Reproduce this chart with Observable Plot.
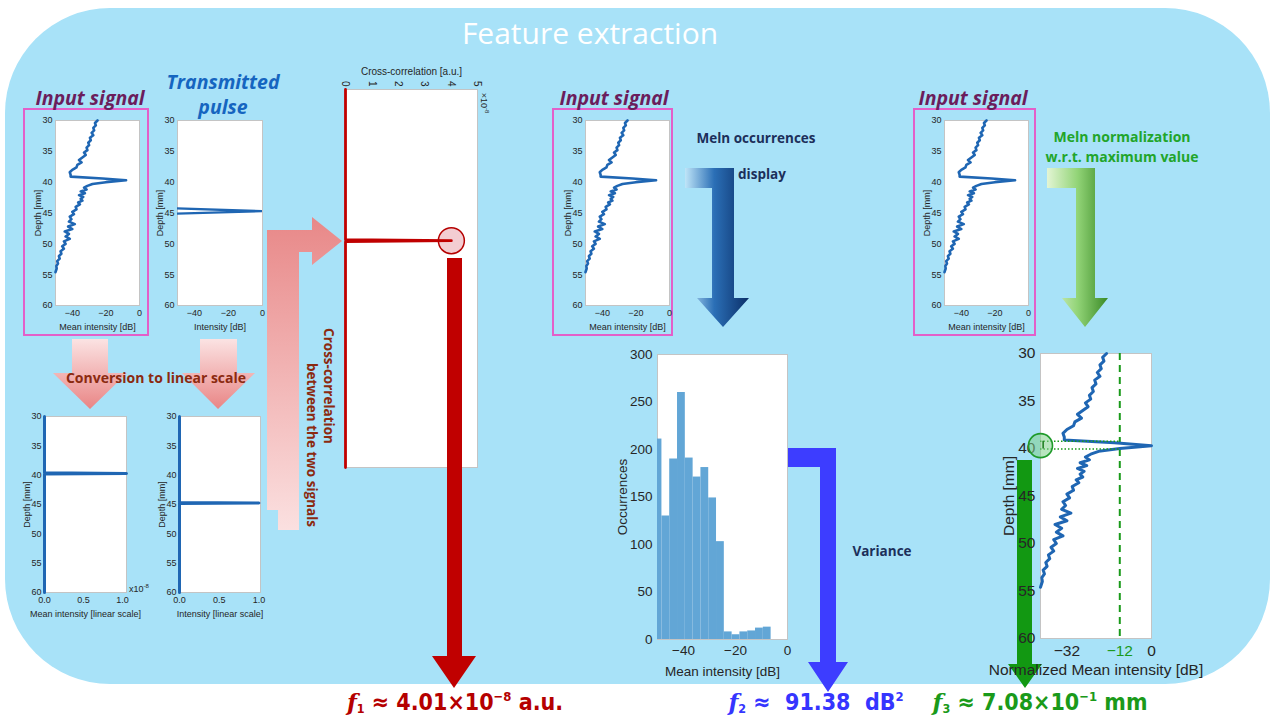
<!DOCTYPE html>
<html>
<head>
<meta charset="utf-8">
<script src="https://cdn.jsdelivr.net/npm/d3@7"></script>
<script src="https://cdn.jsdelivr.net/npm/@observablehq/plot@0.6"></script>
<style>
  html, body { margin: 0; padding: 0; background: #fff; }
  #stage { position: relative; width: 1278px; height: 719px; overflow: hidden; background: #fff; font-family: 'Liberation Sans', Arial, sans-serif; }
  #bg { position: absolute; left: 5px; top: 8px; width: 1265px; height: 676px; border-radius: 105px; background: #a8e2f8; z-index: 0; }
  .t { position: absolute; white-space: nowrap; transform: translate(-50%, -50%); z-index: 5; line-height: 1; }
  .title { font-family: 'Open Sans', 'Liberation Sans', sans-serif; font-size: 30px; color: #fff; }
  .sig { font-family: 'Open Sans', Lato, sans-serif; font-weight: 700; font-style: italic; font-size: 19.5px; color: #6b1d5c; }
  .tp { font-family: 'Open Sans', Lato, sans-serif; font-weight: 700; font-style: italic; font-size: 19.5px; color: #1565c0; }
  .ann { font-family: 'Open Sans', Lato, sans-serif; font-weight: 700; font-size: 13.5px; }
  .box { position: absolute; border: 2px solid #e35fc9; box-sizing: border-box; z-index: 1; }
  .feat { font-family: 'Liberation Sans Narrow', 'DejaVu Sans Condensed', sans-serif; font-weight: 700; font-size: 23px; line-height: 1; }
  .feat .f { font-family: 'DejaVu Serif', 'Liberation Serif', serif; font-style: italic; }
  .feat sub { font-size: 12.5px; vertical-align: -3px; line-height: 0; }
  .feat sup { font-size: 13px; vertical-align: 9px; line-height: 0; }
  .small { font-family: 'Liberation Sans', Arial, sans-serif; font-size: 9px; color: #262626; }
</style>
</head>
<body>
<div id="stage"><div id="bg"></div></div>
<script>
// ---------------- data ----------------
const depthMm = [30.0,30.4,30.8,31.2,31.6,32.0,32.4,32.8,33.2,33.6,34.0,34.4,34.8,35.2,35.6,36.0,36.4,36.8,37.2,37.6,38.0,38.4,38.8,
  39.1,39.4,39.7,40.0,40.3,40.6,40.9,41.2,41.5,41.8,42.1,42.4,42.7,43.0,43.3,43.6,
  44.0,44.4,44.8,45.2,45.6,46.0,46.4,46.8,47.2,47.6,48.0,48.4,48.8,49.2,49.6,50.0,50.4,50.8,51.2,51.6,52.0,52.4,52.8,53.2,53.6,54.0,54.6];
const meanIntensityDb = [-25,-26.5,-26,-27.5,-27,-28.5,-27.5,-29.5,-29,-30.5,-30,-31.5,-31,-33,-32,-34,-36,-34.5,-37,-37.5,-40,-41.5,-41,
  -41,-22,-8,-20,-28,-31,-33,-31.5,-35,-32.5,-36,-33.5,-35,-34,-36.5,-35.5,
  -38,-37.5,-40,-39,-41.5,-40.5,-42,-38.5,-42.5,-40,-44.5,-42,-44,-41.5,-45,-44,-46,-45,-47,-46.5,-48,-47.5,-49,-48.5,-49.5,-49.3,-50];

const pulseDepthMm = [44.2, 44.7, 45.15];
const pulseDb = [-56, 0, -56];

const linInputDepth = [30, 39.6, 39.7, 39.8, 60];
const linInputValue = [0, 0, 1.05, 0, 0];       // ×10^-8
const linPulseDepth = [30, 44.65, 44.75, 44.85, 60];
const linPulseValue = [0, 0, 1, 0, 0];

const xcorrLag = [0, 3.18, 3.2, 3.22, 8];
const xcorrValue = [0, 0, 4.01, 0, 0];          // ×10^-8 a.u.

const histBinStart = [-51.3,-48.3,-45.3,-42.3,-39.3,-36.3,-33.3,-30.3,-27.3,-24.3,-21.3,-18.3,-15.3,-12.3,-9.3];
const histCount = [211,130,190,260,191,171,181,149,103,8,5,8,9,12,13];
const binWidth = 3;

const thresholdDb = -12;
const fwhmDepths = [39.24, 40.04];

const depthTicks = [30,35,40,45,50,55,60];
const dbTicks = [-40,-20,0];

// ---------------- helpers ----------------
const FONT = "'Liberation Sans', Arial, Helvetica, sans-serif";
const stage = document.getElementById("stage");
const BLUE = "#1f66b3";

function place(node, left, top, z = 2) {
  node.style.position = "absolute";
  node.style.left = left + "px";
  node.style.top = top + "px";
  node.style.zIndex = z;
  stage.appendChild(node);
}
function framed({left, top, w, h, m, fontSize = 9, x, y, marks, z = 2}) {
  const [mT, mR, mB, mL] = m;
  const p = Plot.plot({
    width: w + mL + mR, height: h + mT + mB,
    marginTop: mT, marginRight: mR, marginBottom: mB, marginLeft: mL,
    style: {background: "transparent", fontFamily: FONT, fontSize: fontSize + "px", color: "#262626", overflow: "visible"},
    x, y,
    marks: [Plot.frame({fill: "white", stroke: "#c4c4c4"}), ...marks]
  });
  place(p, left - mL, top - mT, z);
  return p;
}
const sig = depthMm.map((d, i) => ({depth: d, db: meanIntensityDb[i]}));
const maxDb = d3.max(meanIntensityDb);
const sigNorm = sig.map(d => ({depth: d.depth, db: d.db - maxDb}));

function depthY(off = 21) {
  return {domain: [30, 60], reverse: true, ticks: depthTicks, tickSize: 0, tickPadding: 3,
    label: "Depth [mm]", labelAnchor: "center", labelArrow: "none", labelOffset: off};
}
function dbX(label, off = 24) {
  return {domain: [-50, 0], ticks: dbTicks, tickSize: 0, tickPadding: 4,
    label, labelAnchor: "center", labelArrow: "none", labelOffset: off};
}
const SM = [4, 6, 30, 34];

// Input signal plots (three copies)
for (const L of [55, 585, 944]) {
  framed({left: L, top: 120, w: 84, h: 185, m: SM,
    x: dbX("Mean intensity [dB]"), y: depthY(),
    marks: [Plot.line(sig, {x: "db", y: "depth", stroke: BLUE, strokeWidth: 2.6})]});
}
// Transmitted pulse
framed({left: 177, top: 120, w: 85, h: 185, m: SM,
  x: dbX("Intensity [dB]"), y: depthY(),
  marks: [Plot.line(pulseDepthMm.map((d, i) => ({depth: d, db: pulseDb[i]})), {x: "db", y: "depth", stroke: BLUE, strokeWidth: 2.4, clip: true})]});

// Linear plots
framed({left: 44, top: 416, w: 82, h: 176, m: SM,
  x: {domain: [0, 1.05], ticks: [0, 0.5, 1], tickSize: 0, tickPadding: 4, label: "Mean intensity [linear scale]", labelAnchor: "center", labelArrow: "none", labelOffset: 24},
  y: depthY(),
  marks: [Plot.line(linInputDepth.map((d, i) => ({depth: d, v: linInputValue[i]})), {x: "v", y: "depth", stroke: BLUE, strokeWidth: 3})]});
framed({left: 179, top: 416, w: 81, h: 176, m: SM,
  x: {domain: [0, 1.02], ticks: [0, 0.5, 1], tickSize: 0, tickPadding: 4, label: "Intensity [linear scale]", labelAnchor: "center", labelArrow: "none", labelOffset: 24},
  y: depthY(),
  marks: [Plot.line(linPulseDepth.map((d, i) => ({depth: d, v: linPulseValue[i]})), {x: "v", y: "depth", stroke: BLUE, strokeWidth: 3})]});

// Cross-correlation
const xc = xcorrLag.map((l, i) => ({lag: l, v: xcorrValue[i]}));
const peak = xc[d3.maxIndex(xcorrValue)];
framed({left: 345, top: 89, w: 132, h: 378, m: [32, 6, 4, 6], fontSize: 10,
  x: {domain: [0, 5], axis: "top", ticks: [0,1,2,3,4,5], tickFormat: d => String(d), tickRotate: 90, tickSize: 0, tickPadding: 3,
      label: "Cross-correlation [a.u.]", labelAnchor: "center", labelArrow: "none", labelOffset: 22},
  y: {domain: [0, 8], reverse: true, axis: null},
  marks: [
    Plot.dot([peak], {x: "v", y: "lag", r: 13, fill: "#f3cdd2", stroke: "#b50000", strokeWidth: 1.5}),
    Plot.line(xc, {x: "v", y: "lag", stroke: "#c00000", strokeWidth: 2.8})
  ]});

// Histogram
const hist = histBinStart.map((b, i) => ({x1: b, x2: b + binWidth, n: histCount[i]}));
framed({left: 657, top: 354, w: 130, h: 285, m: [10, 6, 40, 46], fontSize: 13.5,
  x: {domain: [-50, 0], ticks: dbTicks, tickSize: 0, tickPadding: 6, label: "Mean intensity [dB]", labelAnchor: "center", labelArrow: "none", labelOffset: 36},
  y: {domain: [0, 300], ticks: d3.range(0, 301, 50), tickSize: 0, tickPadding: 5, label: "Occurrences", labelAnchor: "center", labelArrow: "none", labelOffset: 40},
  marks: [Plot.rectY(hist, {x1: "x1", x2: "x2", y: "n", fill: "#62a6d6", clip: true})]});

// Normalized plot
framed({left: 1040, top: 353, w: 111, h: 285, m: [10, 30, 42, 50], fontSize: 15.5, z: 2,
  x: {domain: [-42, 0]},
  y: {domain: [30, 60], reverse: true},
  marks: [
    Plot.axisY({ticks: depthTicks, tickSize: 0, tickPadding: 5, label: "Depth [mm]", labelAnchor: "center", labelArrow: "none", labelOffset: 38}),
    Plot.axisX({ticks: [-32, 0], tickSize: 0, tickPadding: 6, label: "Normalized Mean intensity [dB]", labelAnchor: "center", labelArrow: "none", labelOffset: 36}),
    Plot.axisX({ticks: [thresholdDb], tickSize: 0, tickPadding: 6, fill: "#1a9a1a", label: null}),
    Plot.ruleX([thresholdDb], {stroke: "#1a9a1a", strokeWidth: 2, strokeDasharray: "7,5"}),
    Plot.line(sigNorm, {x: "db", y: "depth", stroke: BLUE, strokeWidth: 3}),
    Plot.ruleY(fwhmDepths, {x1: -42, x2: thresholdDb, stroke: "#1a9a1a", strokeWidth: 1.5, strokeDasharray: "1.5,2"}),
    Plot.dot([{x: -42, y: sigNorm[d3.maxIndex(sigNorm, d => d.db)].depth}], {x: "x", y: "y", r: 12, fill: "#7fcf8a", fillOpacity: 0.55, stroke: "#1f9a2a", strokeWidth: 1.6}),
    Plot.ruleX([-41], {y1: fwhmDepths[0], y2: fwhmDepths[1], stroke: "#1a7a1a", strokeWidth: 1.5})
  ]});

// ---------------- arrows (decor) ----------------
const NS = "http://www.w3.org/2000/svg";
function svgLayer(z, html) {
  const s = document.createElementNS(NS, "svg");
  s.setAttribute("width", 1278); s.setAttribute("height", 719);
  s.style.position = "absolute"; s.style.left = "0"; s.style.top = "0"; s.style.zIndex = z;
  s.innerHTML = html;
  stage.appendChild(s);
}
svgLayer(1, `
<defs>
  <linearGradient id="pinkV" x1="0" y1="0" x2="0" y2="1"><stop offset="0" stop-color="#fbe3e3"/><stop offset="1" stop-color="#e98585"/></linearGradient>
  <linearGradient id="pinkL" x1="0" y1="0" x2="0" y2="1"><stop offset="0" stop-color="#e88888"/><stop offset="1" stop-color="#fbe0e0"/></linearGradient>
  <linearGradient id="navyH" x1="685" y1="0" x2="750" y2="0" gradientUnits="userSpaceOnUse"><stop offset="0" stop-color="#bfe5f8"/><stop offset="0.45" stop-color="#2b6fb6"/><stop offset="1" stop-color="#0a2d66"/></linearGradient>
  <linearGradient id="greenH" x1="1047" y1="0" x2="1108" y2="0" gradientUnits="userSpaceOnUse"><stop offset="0" stop-color="#e3f5d4"/><stop offset="0.5" stop-color="#92d477"/><stop offset="1" stop-color="#3a8a26"/></linearGradient>
</defs>
<polygon fill="url(#pinkV)" points="72,339 108,339 108,373 127,373 90,409 53,373 72,373"/>
<polygon fill="url(#pinkV)" points="200,339 237,339 237,373 255,373 218,409 182,373 200,373"/>
<polygon fill="url(#pinkL)" points="267,230 312,230 312,217 342,241 312,265 312,252 299,252 299,530 278,530 278,510 267,510"/>
<polygon fill="url(#navyH)" points="685,168 734,168 734,298 749,298 723,327 697,298 712,298 712,188 685,188"/>
<polygon fill="url(#greenH)" points="1047,168 1095,168 1095,298 1108,298 1085,327 1062,298 1076,298 1076,188 1047,188"/>
<polygon fill="#3d3dff" points="786,448 836,448 836,662 848,662 828,692 808,662 820,662 820,467 786,467"/>
<polygon fill="#129812" points="1017,460 1032,460 1032,664 1042,664 1025,688 1008,664 1017,664"/>
`);
svgLayer(3, `<polygon fill="#c00000" points="447,258 462,258 462,656 476,656 454,688 432,656 447,656"/>`);

// ---------------- text ----------------
function txt(html, x, y, cls, extra = "") {
  const d = document.createElement("div");
  d.className = "t " + cls;
  d.style.left = x + "px"; d.style.top = y + "px";
  if (extra) d.style.cssText += extra;
  d.innerHTML = html;
  stage.appendChild(d);
  return d;
}
function box(l, t, w, h) {
  const d = document.createElement("div");
  d.className = "box";
  d.style.left = l + "px"; d.style.top = t + "px"; d.style.width = w + "px"; d.style.height = h + "px";
  stage.appendChild(d);
}
box(23, 108, 126, 228); box(552, 108, 121, 228); box(913, 108, 123, 228);

txt("Feature extraction", 590, 33, "title");
txt("Input signal", 90, 98, "sig");
txt("Input signal", 614, 98, "sig");
txt("Input signal", 973, 98, "sig");
txt("Transmitted", 223, 82, "tp");
txt("pulse", 223, 107, "tp");
txt("Conversion to linear scale", 156, 378, "ann", "color:#8b2a10;font-size:14px;");
txt("Cross-correlation", 328, 386, "ann", "color:#8b2a10;transform:translate(-50%,-50%) rotate(90deg);");
txt("between the two signals", 311, 445, "ann", "color:#8b2a10;transform:translate(-50%,-50%) rotate(90deg);");
txt("Meln occurrences", 756, 139, "ann", "color:#1c2f5a;");
txt("display", 762, 175, "ann", "color:#1c2f5a;");
txt("Meln normalization", 1122, 137, "ann", "color:#22a52a;font-size:14px;");
txt("w.r.t. maximum value", 1122, 157, "ann", "color:#22a52a;font-size:14px;");
txt("Variance", 882, 552, "ann", "color:#1c2f5a;");
txt("x10<sup style='font-size:6px'>-8</sup>", 139, 588, "small");
txt("×10<sup style='font-size:6px'>-8</sup>", 484, 103, "small", "transform:translate(-50%,-50%) rotate(90deg);");

const features = [
  {i: 1, html: "4.01×10<sup>−8</sup> a.u.", color: "#b50000", x: 455},
  {i: 2, html: "&nbsp;91.38&nbsp; dB<sup>2</sup>", color: "#3535ff", x: 816},
  {i: 3, html: "7.08×10<sup>−1</sup> mm", color: "#1a9a1a", x: 1040}
];
for (const f of features) {
  txt(`<span class="f">f</span><sub>${f.i}</sub> ≈ ${f.html}`, f.x, 702, "feat", `color:${f.color};`);
}
</script>
</body>
</html>
